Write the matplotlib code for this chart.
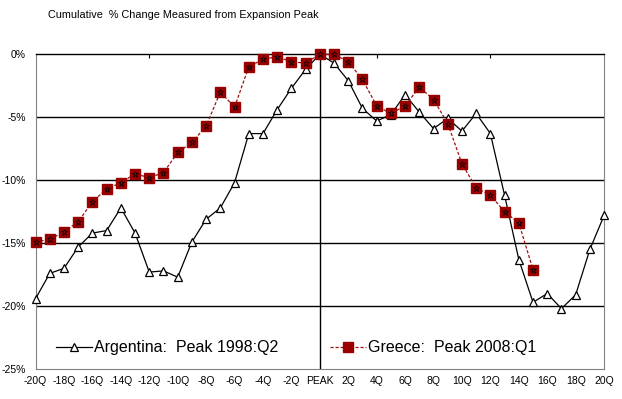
import numpy as np
import matplotlib
matplotlib.use('Agg')
import matplotlib.pyplot as plt

matplotlib.rcParams['font.family'] = ['Liberation Sans', 'DejaVu Sans']

quarters = list(range(-20, 21))
argentina = [-19.4, -17.4, -17.0, -15.3, -14.2, -14.0, -12.2, -14.2, -17.3, -17.2,
             -17.7, -14.9, -13.1, -12.2, -10.2, -6.3, -6.3, -4.4, -2.7, -1.2,
             0.0, -0.7, -2.1, -4.3, -5.3, -4.8, -3.2, -4.6, -5.9, -5.1,
             -6.1, -4.7, -6.3, -11.2, -16.3, -19.7, -19.0, -20.2, -19.1, -15.5,
             -12.8]
greece_q = list(range(-20, 16))
greece = [-14.9, -14.7, -14.1, -13.3, -11.7, -10.7, -10.2, -9.5, -9.8, -9.4,
          -7.8, -7.0, -5.7, -3.0, -4.2, -1.0, -0.4, -0.2, -0.6, -0.7,
          0.0, 0.0, -0.6, -2.0, -4.1, -4.7, -4.1, -2.6, -3.6, -5.5,
          -8.7, -10.6, -11.2, -12.5, -13.4, -17.1]

xtick_pos = list(range(-20, 21, 2))
xtick_lab = [('PEAK' if q == 0 else '%dQ' % q) for q in xtick_pos]
ytick_pos = [0, -5, -10, -15, -20, -25]

fig = plt.figure(figsize=(6.22, 3.99), dpi=100)
ax = fig.add_axes([0.0572, 0.075, 0.914, 0.789])

for y in [-5, -10, -15, -20]:
    ax.axhline(y, color='black', lw=1.0, zorder=1)
ax.axvline(0, color='black', lw=1.0, zorder=1)

ax.plot(quarters, argentina, color='black', lw=0.9, marker='^', ms=6,
        mfc='white', mec='black', mew=0.9, zorder=3, clip_on=False,
        label='Argentina:  Peak 1998:Q2')
ax.plot(greece_q, greece, color='#a01010', lw=0.9, ls=(0, (2.5, 1.5)),
        marker='s', ms=7, mfc='#990000', mec='#990000', zorder=4, clip_on=False,
        label='Greece:  Peak 2008:Q1')
ax.plot(greece_q, greece, ls='none', marker='*', ms=5, mfc='none',
        mec='black', mew=0.5, zorder=5, clip_on=False)

ax.set_xlim(-20, 20)
ax.set_ylim(-25, 0)
ax.set_xticks(xtick_pos)
ax.set_xticklabels(xtick_lab)
ax.set_yticks(ytick_pos)
ax.set_yticklabels(['%d%%' % v for v in ytick_pos])
ax.tick_params(axis='both', length=0, labelsize=7.5, pad=5)
ax.tick_params(axis='y', pad=7)

for s in ['left', 'right', 'bottom']:
    ax.spines[s].set_color('#808080')
    ax.spines[s].set_linewidth(0.8)
ax.spines['top'].set_color('black')
ax.spines['top'].set_linewidth(1.0)

top = ax.secondary_xaxis('top')
top.set_xticks([-12, 4, 12])
top.set_xticklabels([])
top.tick_params(direction='in', length=3, width=0.8)
top.spines['top'].set_visible(False)

ax.legend(loc='center left', ncol=2, frameon=False, fontsize=11.5,
          bbox_to_anchor=(0.036, 0.067), borderpad=0, borderaxespad=0,
          columnspacing=3.2, handlelength=2.25, handletextpad=0.15)

fig.text(0.077, 0.963, 'Cumulative  % Change Measured from Expansion Peak',
         fontsize=7.8, ha='left', va='center')

fig.savefig('out.png', dpi=100)
